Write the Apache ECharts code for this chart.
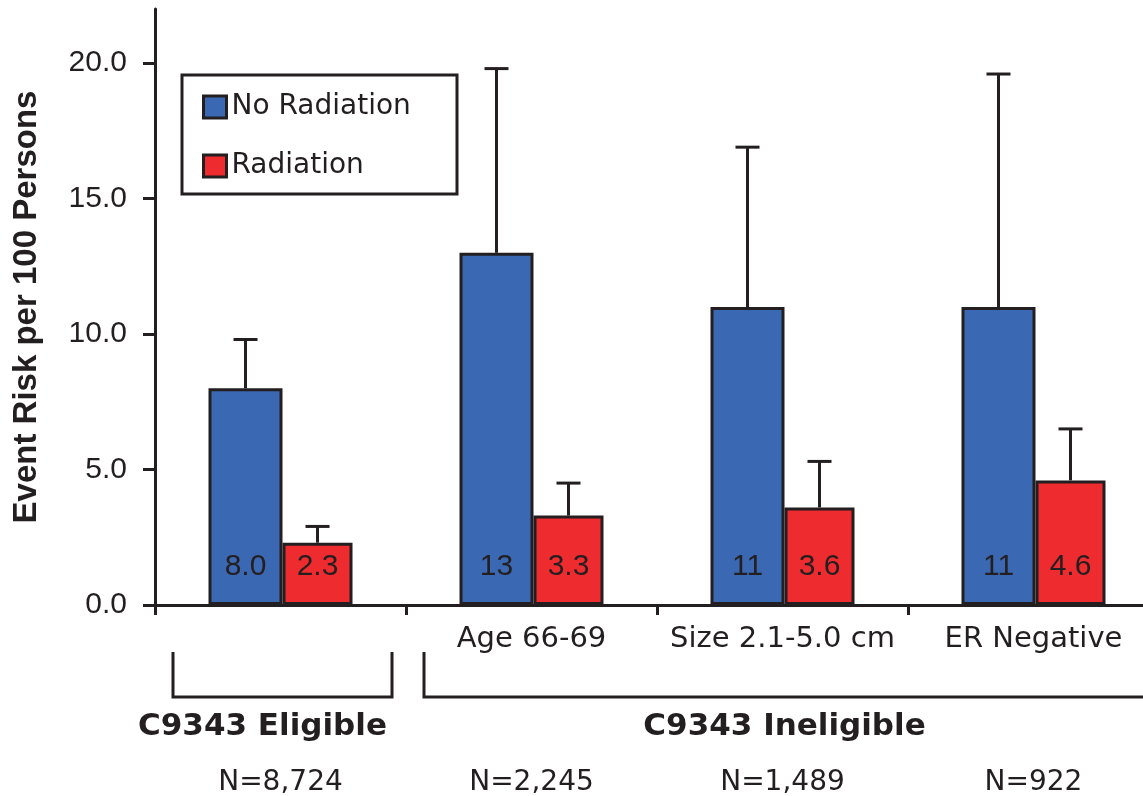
<!DOCTYPE html>
<html>
<head>
<meta charset="utf-8">
<title>Event Risk per 100 Persons</title>
<script src="https://cdn.jsdelivr.net/npm/echarts@6/dist/echarts.min.js"></script>
<style>
  html, body { margin: 0; padding: 0; background: #ffffff; }
  #chart { width: 1143px; height: 796px; }
</style>
</head>
<body>
<div id="chart"></div>
<script>
// ---- data ----
var categories = ['', 'Age 66-69', 'Size 2.1-5.0 cm', 'ER Negative'];
var sampleSizes = ['N=8,724', 'N=2,245', 'N=1,489', 'N=922'];
var noRadiation = [8.0, 13, 11, 11];
var noRadiationUpper = [9.8, 19.8, 16.9, 19.6];
var radiation = [2.3, 3.3, 3.6, 4.6];
var radiationUpper = [2.9, 4.5, 5.3, 6.5];
var yTicks = [0, 5, 10, 15, 20];
var groupNames = ['C9343 Eligible', 'C9343 Ineligible'];
var groupSpans = [[0, 0], [1, 3]];

// ---- styling ----
var INK = '#231f20';
var BLUE = '#3b68b2';
var RED = '#ee2b2f';
var SANS = '"Liberation Sans", Arial, Helvetica, sans-serif';
var WIDE = '"DejaVu Sans", Verdana, sans-serif';
var BLUE_W = 74;
var RED_W = 70;
var CAP = 24;

// horizontal offset of each bar's centre from its category centre
var blueOffset = -(BLUE_W + RED_W) / 2 + BLUE_W / 2;
var redOffset = -(BLUE_W + RED_W) / 2 + BLUE_W + RED_W / 2;

function fmtValue(v) {
  return v < 10 ? v.toFixed(1) : String(Math.round(v));
}

// upward error bar with a cap, starting at the bar top
function errorBar(offset) {
  return function (params, api) {
    var i = api.value(0);
    var base = api.coord([i, api.value(1)]);
    var top = api.coord([i, api.value(2)]);
    var x = base[0] + offset;
    return {
      type: 'group',
      children: [
        { type: 'line', shape: { x1: x, y1: base[1], x2: x, y2: top[1] },
          style: { stroke: INK, lineWidth: 3 } },
        { type: 'line', shape: { x1: x - CAP / 2, y1: top[1], x2: x + CAP / 2, y2: top[1] },
          style: { stroke: INK, lineWidth: 3 } }
      ]
    };
  };
}

// bracket under a run of categories, with the group name below it
function bracket(params, api) {
  var s = api.value(0), e = api.value(1);
  var band = api.size([1, 0])[0];
  var y0 = api.coord([0, 0])[1];
  var x0 = api.coord([s, 0])[0] - band / 2 + 18;
  var x1 = api.coord([e, 0])[0] + band / 2 - 14;
  var yLine = y0 + 92, yTop = y0 + 47;
  var labelX = s === e ? x0 - 14 + (x1 - x0) / 2 - 6 : (x0 + x1) / 2;
  return {
    type: 'group',
    children: [
      { type: 'polyline', shape: { points: [[x0, yTop], [x0, yLine], [x1, yLine], [x1, yTop]] },
        style: { stroke: INK, lineWidth: 3, fill: null } },
      { type: 'text', x: labelX, y: y0 + 122,
        style: { text: groupNames[params.dataIndex], fill: INK, font: 'bold 31px ' + WIDE,
                 align: 'center', verticalAlign: 'middle' } }
    ]
  };
}

var chart = echarts.init(document.getElementById('chart'));

chart.setOption({
  animation: false,
  backgroundColor: '#ffffff',
  grid: { left: 155, top: 9, width: 1004, bottom: 191, outerBoundsMode: 'none', containLabel: false },
  graphic: [{
    type: 'rect', z: 10,
    shape: { x: 182, y: 75, width: 275, height: 119 },
    style: { fill: '#ffffff', stroke: INK, lineWidth: 3 }
  }],
  legend: {
    z: 20,
    orient: 'vertical',
    left: 202, top: 92, padding: 0,
    itemWidth: 23, itemHeight: 22, itemGap: 29,
    icon: 'rect',
    itemStyle: { borderColor: INK, borderWidth: 3 },
    textStyle: { fontFamily: WIDE, fontSize: 28, color: INK, lineHeight: 30 },
    data: ['No Radiation', 'Radiation']
  },
  xAxis: [{
    type: 'category',
    data: categories,
    axisLine: { lineStyle: { color: INK, width: 3 } },
    axisTick: { show: true, length: 10, lineStyle: { color: INK, width: 3 } },
    axisLabel: { margin: 20, fontFamily: WIDE, fontSize: 29, color: INK, interval: 0 }
  }, {
    type: 'category',
    position: 'bottom',
    data: sampleSizes,
    axisLine: { show: false },
    axisTick: { show: false },
    axisLabel: { margin: 164, fontFamily: WIDE, fontSize: 28, color: INK, interval: 0 }
  }],
  yAxis: {
    type: 'value',
    min: 0, max: 22, interval: 5,
    name: 'Event Risk per 100 Persons',
    nameLocation: 'middle',
    nameGap: 112,
    nameTextStyle: { fontFamily: SANS, fontWeight: 'bold', fontSize: 33, color: INK },
    axisLine: { show: true, lineStyle: { color: INK, width: 3 } },
    axisTick: { show: true, length: 12, lineStyle: { color: INK, width: 3 }, customValues: yTicks },
    axisLabel: { margin: 28, fontFamily: SANS, fontSize: 30, color: INK, customValues: yTicks,
                 formatter: function (v) { return v.toFixed(1); } },
    splitLine: { show: false }
  },
  series: [{
    type: 'custom', name: 'noRadErr', z: 1, clip: false,
    renderItem: errorBar(blueOffset),
    encode: { x: 0, y: [1, 2] },
    data: noRadiation.map(function (v, i) { return [i, v, noRadiationUpper[i]]; })
  }, {
    type: 'custom', name: 'radErr', z: 1, clip: false,
    renderItem: errorBar(redOffset),
    encode: { x: 0, y: [1, 2] },
    data: radiation.map(function (v, i) { return [i, v, radiationUpper[i]]; })
  }, {
    type: 'bar', name: 'No Radiation', z: 3,
    barWidth: BLUE_W, barGap: '0%',
    itemStyle: { color: BLUE, borderColor: INK, borderWidth: 3 },
    label: { show: true, position: 'insideBottom', distance: 23, fontFamily: SANS, fontSize: 30,
             color: INK, formatter: function (p) { return fmtValue(p.value); } },
    data: noRadiation
  }, {
    type: 'bar', name: 'Radiation', z: 3,
    barWidth: RED_W, barGap: '0%',
    itemStyle: { color: RED, borderColor: INK, borderWidth: 3 },
    label: { show: true, position: 'insideBottom', distance: 23, fontFamily: SANS, fontSize: 30,
             color: INK, formatter: function (p) { return fmtValue(p.value); } },
    data: radiation
  }, {
    type: 'custom', name: 'groups', clip: false, silent: true,
    renderItem: bracket,
    encode: { x: [0, 1] },
    data: groupSpans
  }]
});
</script>
</body>
</html>
